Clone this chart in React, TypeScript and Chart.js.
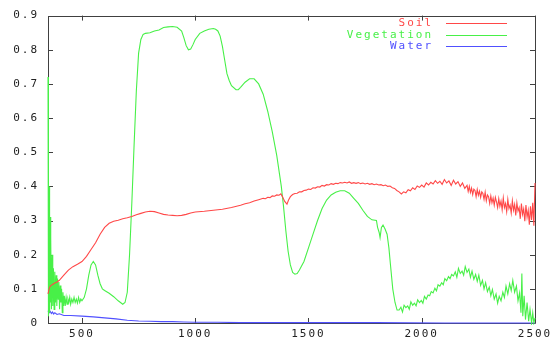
import React, { useEffect, useRef } from "react";
import { Chart, registerables } from "chart.js";

Chart.register(...registerables);

const xTicks = [500, 1000, 1500, 2000, 2500];
const yTicks = [0, 0.1, 0.2, 0.3, 0.4, 0.5, 0.6, 0.7, 0.8, 0.9];
const seriesNames = ["Soil", "Vegetation", "Water"];
const seriesColors = ["rgb(255,72,72)", "rgb(72,240,72)", "rgb(80,80,255)"];

const soilWl = [
  350, 355, 360, 370, 380, 390, 400, 420, 440, 460, 480, 500, 520, 540, 560, 580, 600, 620, 640, 660, 680, 700,
  720, 740, 760, 780, 800, 820, 840, 860, 880, 900, 920, 940, 960, 980, 1000, 1040, 1080, 1120, 1160, 1200,
  1220, 1240, 1260, 1280, 1300, 1310, 1320, 1330, 1340, 1350, 1360, 1370, 1378, 1385, 1395, 1405, 1412, 1420,
  1430, 1440, 1450, 1460, 1470, 1480, 1490, 1500, 1510, 1520, 1530, 1540, 1550, 1560, 1570, 1580, 1590, 1600,
  1610, 1620, 1630, 1640, 1650, 1660, 1670, 1680, 1690, 1700, 1710, 1720, 1730, 1740, 1750, 1760, 1770, 1780,
  1790, 1800, 1810, 1820, 1830, 1840, 1850, 1860, 1870, 1880, 1890, 1900, 1910, 1920, 1930, 1940, 1950, 1960,
  1970, 1980, 1990, 2000, 2010, 2020, 2030, 2040, 2050, 2060, 2070, 2080, 2090, 2100, 2110, 2120, 2130, 2140,
  2150, 2160, 2170, 2180, 2190, 2200, 2205, 2210, 2215, 2220, 2225, 2230, 2235, 2240, 2245, 2250, 2255, 2260,
  2265, 2270, 2275, 2280, 2285, 2290, 2295, 2300, 2305, 2310, 2315, 2320, 2325, 2330, 2335, 2340, 2345, 2350,
  2355, 2360, 2365, 2370, 2375, 2380, 2385, 2390, 2395, 2400, 2405, 2410, 2415, 2420, 2425, 2430, 2435, 2440,
  2445, 2450, 2455, 2460, 2465, 2470, 2475, 2480, 2485, 2490, 2495, 2500,
];
const soilVal = [
  0.085, 0.1, 0.108, 0.113, 0.117, 0.12, 0.125, 0.14, 0.155, 0.165, 0.172, 0.18, 0.195, 0.215, 0.235, 0.26, 0.28,
  0.292, 0.298, 0.301, 0.305, 0.308, 0.312, 0.317, 0.321, 0.325, 0.327, 0.326, 0.322, 0.318, 0.316, 0.315, 0.314,
  0.315, 0.318, 0.322, 0.325, 0.327, 0.33, 0.333, 0.338, 0.345, 0.349, 0.352, 0.357, 0.361, 0.365, 0.364, 0.368,
  0.367, 0.372, 0.371, 0.375, 0.374, 0.378, 0.37, 0.356, 0.348, 0.36, 0.37, 0.376, 0.379, 0.38, 0.384, 0.384,
  0.388, 0.389, 0.392, 0.391, 0.396, 0.395, 0.399, 0.398, 0.403, 0.401, 0.405, 0.404, 0.408, 0.406, 0.409, 0.408,
  0.411, 0.41, 0.412, 0.41, 0.413, 0.409, 0.411, 0.409, 0.411, 0.408, 0.41, 0.407, 0.409, 0.406, 0.408, 0.405,
  0.407, 0.404, 0.405, 0.402, 0.404, 0.4, 0.401, 0.396, 0.394, 0.388, 0.384, 0.378, 0.384, 0.381, 0.39, 0.387,
  0.396, 0.391, 0.401, 0.397, 0.404, 0.398, 0.41, 0.404, 0.412, 0.407, 0.417, 0.409, 0.415, 0.406, 0.42, 0.41,
  0.416, 0.403, 0.418, 0.407, 0.414, 0.4, 0.41, 0.394, 0.403, 0.385, 0.4, 0.382, 0.395, 0.376, 0.392, 0.388,
  0.37, 0.391, 0.374, 0.386, 0.368, 0.384, 0.379, 0.362, 0.383, 0.358, 0.375, 0.37, 0.35, 0.372, 0.352, 0.366,
  0.345, 0.368, 0.355, 0.338, 0.364, 0.342, 0.357, 0.332, 0.366, 0.338, 0.35, 0.326, 0.362, 0.335, 0.345, 0.322,
  0.358, 0.33, 0.347, 0.315, 0.352, 0.328, 0.338, 0.305, 0.35, 0.318, 0.334, 0.298, 0.345, 0.31, 0.33, 0.288,
  0.342, 0.302, 0.352, 0.285, 0.41, 0.315,
];

const vegWl = [
  350, 351, 352, 353, 355, 357, 359, 361, 363, 365, 368, 371, 374, 377, 380, 383, 386, 389, 392, 395, 398, 401,
  404, 407, 410, 413, 416, 419, 422, 426, 430, 434, 438, 442, 446, 450, 455, 460, 465, 470, 475, 480, 485, 490,
  495, 500, 510, 520, 530, 540, 550, 560, 570, 580, 590, 600, 620, 640, 660, 670, 680, 690, 700, 710, 720, 730,
  740, 750, 760, 770, 780, 800, 820, 840, 860, 880, 900, 920, 940, 950, 960, 970, 980, 990, 1000, 1020, 1040,
  1060, 1080, 1090, 1100, 1110, 1120, 1130, 1140, 1150, 1160, 1180, 1190, 1200, 1220, 1240, 1260, 1280, 1300,
  1320, 1340, 1360, 1380, 1390, 1400, 1410, 1420, 1430, 1440, 1450, 1460, 1480, 1500, 1520, 1540, 1560, 1580,
  1600, 1620, 1640, 1660, 1680, 1700, 1720, 1740, 1760, 1780, 1800, 1805, 1812, 1816, 1822, 1829, 1838, 1847,
  1855, 1862, 1872, 1882, 1891, 1900, 1908, 1915, 1922, 1930, 1938, 1945, 1952, 1960, 1968, 1975, 1982, 1990,
  1998, 2005, 2012, 2020, 2028, 2035, 2042, 2050, 2058, 2065, 2072, 2080, 2088, 2095, 2102, 2110, 2118, 2125,
  2132, 2140, 2148, 2155, 2162, 2170, 2178, 2185, 2192, 2200, 2208, 2215, 2222, 2230, 2238, 2245, 2252, 2260,
  2268, 2275, 2282, 2290, 2298, 2305, 2312, 2320, 2328, 2335, 2342, 2350, 2358, 2365, 2372, 2380, 2388, 2395,
  2402, 2410, 2418, 2425, 2432, 2438, 2442, 2446, 2452, 2458, 2465, 2472, 2478, 2485, 2490, 2495, 2500,
];
const vegVal = [
  0.72, 0.02, 0.62, 0.05, 0.4, 0.03, 0.31, 0.06, 0.25, 0.04, 0.2, 0.05, 0.16, 0.04, 0.15, 0.06, 0.14, 0.05, 0.13,
  0.07, 0.12, 0.04, 0.11, 0.06, 0.1, 0.03, 0.09, 0.05, 0.08, 0.05, 0.075, 0.055, 0.07, 0.06, 0.075, 0.055, 0.07,
  0.06, 0.075, 0.06, 0.07, 0.058, 0.075, 0.06, 0.07, 0.065, 0.075, 0.1, 0.14, 0.17, 0.18, 0.17, 0.14, 0.115, 0.1,
  0.095, 0.087, 0.077, 0.065, 0.06, 0.055, 0.06, 0.09, 0.2, 0.35, 0.52, 0.68, 0.79, 0.83, 0.845, 0.848, 0.85,
  0.855, 0.858, 0.865, 0.867, 0.868, 0.866, 0.855, 0.835, 0.812, 0.8, 0.802, 0.815, 0.83, 0.848, 0.855, 0.86,
  0.862, 0.86, 0.855, 0.84, 0.81, 0.77, 0.73, 0.71, 0.695, 0.683, 0.683, 0.69, 0.705, 0.715, 0.715, 0.7, 0.67,
  0.62, 0.56, 0.49, 0.4, 0.34, 0.27, 0.21, 0.17, 0.148, 0.143, 0.145, 0.155, 0.18, 0.22, 0.26, 0.3, 0.335, 0.36,
  0.375, 0.383, 0.387, 0.387, 0.38, 0.365, 0.35, 0.33, 0.312, 0.302, 0.3, 0.28, 0.265, 0.25, 0.28, 0.287, 0.275,
  0.26, 0.22, 0.17, 0.1, 0.06, 0.038, 0.038, 0.046, 0.032, 0.052, 0.045, 0.05, 0.04, 0.062, 0.052, 0.058, 0.05,
  0.068, 0.06, 0.066, 0.058, 0.078, 0.07, 0.082, 0.08, 0.092, 0.088, 0.102, 0.094, 0.112, 0.108, 0.118, 0.112,
  0.13, 0.124, 0.136, 0.13, 0.142, 0.138, 0.15, 0.134, 0.16, 0.145, 0.152, 0.14, 0.165, 0.148, 0.158, 0.134,
  0.152, 0.128, 0.142, 0.122, 0.14, 0.11, 0.125, 0.1, 0.118, 0.092, 0.105, 0.08, 0.098, 0.07, 0.085, 0.058, 0.078,
  0.065, 0.09, 0.075, 0.108, 0.085, 0.115, 0.095, 0.125, 0.09, 0.108, 0.065, 0.088, 0.03, 0.145, 0.02, 0.08, 0.01,
  0.06, 0.005, 0.04, 0.0, 0.03, 0.0, 0.015,
];

const waterWl = [
  350, 355, 360, 365, 370, 375, 380, 390, 400, 420, 450, 500, 550, 600, 650, 700, 750, 800, 850, 900, 950, 1000,
  1100, 1200, 1300, 1500, 1800, 2100, 2500,
];
const waterVal = [
  0.036, 0.03, 0.034, 0.028, 0.032, 0.026, 0.03, 0.025, 0.027, 0.022, 0.022, 0.02, 0.018, 0.015, 0.012, 0.008,
  0.006, 0.005, 0.004, 0.004, 0.003, 0.002, 0.002, 0.001, 0.001, 0.001, 0.001, 0.0, 0.0,
];

const toPoints = (xs: number[], ys: number[]) => xs.map((x, i) => ({ x, y: ys[i] }));

const FONT = "'DejaVu Sans Mono', monospace";
const SPACING = "2px";

const framePlugin = {
  id: "gnuFrame",
  beforeDraw(chart: any) {
    (chart.ctx as any).letterSpacing = SPACING;
  },
  beforeDatasetsDraw(chart: any) {
    const { ctx, chartArea } = chart;
    const { left, right, top, bottom } = chartArea;
    const xs = chart.scales.x;
    const ys = chart.scales.y;
    ctx.save();
    ctx.strokeStyle = "#404040";
    ctx.lineWidth = 1;
    ctx.beginPath();
    ctx.rect(Math.round(left) + 0.5, Math.round(top) + 0.5, Math.round(right - left), Math.round(bottom - top));
    const t = 5;
    xTicks.forEach((v) => {
      const px = Math.round(xs.getPixelForValue(v)) + 0.5;
      ctx.moveTo(px, bottom);
      ctx.lineTo(px, bottom - t);
      ctx.moveTo(px, top);
      ctx.lineTo(px, top + t);
    });
    yTicks.forEach((v) => {
      const py = Math.round(ys.getPixelForValue(v)) + 0.5;
      ctx.moveTo(left, py);
      ctx.lineTo(left + t, py);
      ctx.moveTo(right, py);
      ctx.lineTo(right - t, py);
    });
    ctx.stroke();
    ctx.restore();
  },
  afterDraw(chart: any) {
    const ctx = chart.ctx;
    ctx.save();
    (ctx as any).letterSpacing = SPACING;
    ctx.font = `11px ${FONT}`;
    ctx.textAlign = "right";
    ctx.textBaseline = "middle";
    const rows = [23, 35, 46];
    seriesNames.forEach((name, i) => {
      ctx.fillStyle = seriesColors[i];
      ctx.fillText(name, 433, rows[i]);
      ctx.strokeStyle = seriesColors[i];
      ctx.lineWidth = 1;
      ctx.beginPath();
      ctx.moveTo(446, rows[i] + 0.5);
      ctx.lineTo(507, rows[i] + 0.5);
      ctx.stroke();
    });
    ctx.restore();
    (ctx as any).letterSpacing = "0px";
  },
};

export default function App() {
  const ref = useRef<HTMLCanvasElement | null>(null);
  useEffect(() => {
    if (!ref.current) return;
    const chart = new Chart(ref.current, {
      type: "line",
      data: {
        datasets: [
          { label: seriesNames[0], data: toPoints(soilWl, soilVal), borderColor: seriesColors[0] },
          { label: seriesNames[1], data: toPoints(vegWl, vegVal), borderColor: seriesColors[1] },
          { label: seriesNames[2], data: toPoints(waterWl, waterVal), borderColor: seriesColors[2] },
        ].map((d) => ({ ...d, borderWidth: 1.1, pointRadius: 0, tension: 0, fill: false, clip: 2 })),
      },
      options: {
        responsive: false,
        animation: false,
        layout: { padding: { left: 0, top: 13, right: 19, bottom: 0 } },
        plugins: { legend: { display: false }, tooltip: { enabled: false } },
        scales: {
          x: {
            type: "linear",
            min: 350,
            max: 2500,
            grid: { display: false, drawTicks: false },
            border: { display: false },
            afterBuildTicks: (s: any) => {
              s.ticks = xTicks.map((v) => ({ value: v }));
            },
            afterFit: (s: any) => {
              s.height = 22;
            },
            ticks: {
              color: "#222",
              font: { family: FONT, size: 11 },
              padding: 5,
              maxRotation: 0,
              autoSkip: false,
              callback: (v: any) => String(v),
            },
          },
          y: {
            type: "linear",
            min: 0,
            max: 0.9,
            grid: { display: false, drawTicks: false },
            border: { display: false },
            afterBuildTicks: (s: any) => {
              s.ticks = yTicks.map((v) => ({ value: v }));
            },
            afterFit: (s: any) => {
              s.width = 48;
            },
            ticks: {
              color: "#222",
              font: { family: FONT, size: 11 },
              padding: 9,
              autoSkip: false,
              callback: (v: any) => (v === 0 ? "0" : Number(v).toFixed(1)),
            },
          },
        },
      },
      plugins: [framePlugin],
    });
    return () => chart.destroy();
  }, []);
  return (
    <div style={{ position: "absolute", left: 0, top: 0, width: 554, height: 345, background: "#fff" }}>
      <canvas ref={ref} width={554} height={345} style={{ display: "block" }} />
    </div>
  );
}
